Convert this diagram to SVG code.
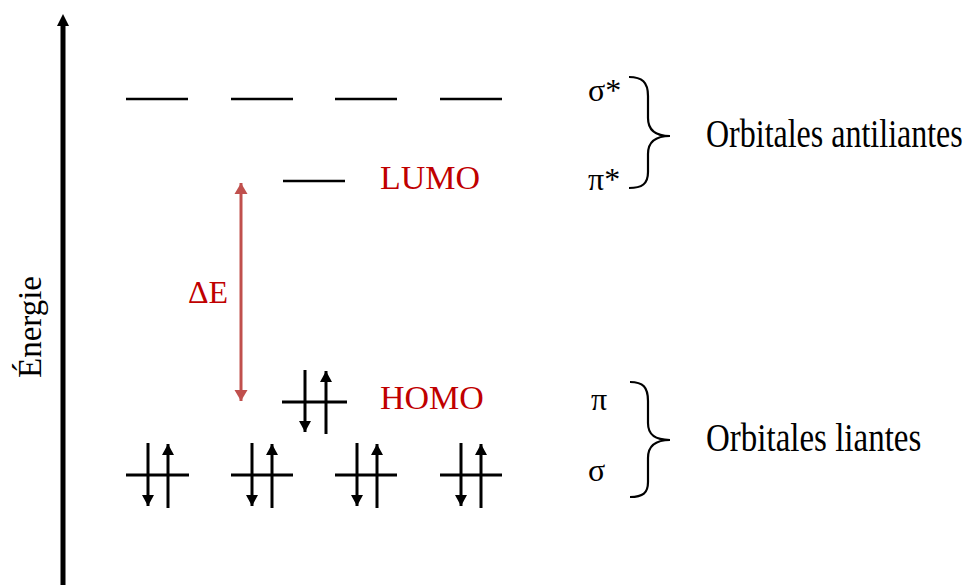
<svg xmlns="http://www.w3.org/2000/svg" width="977" height="585" viewBox="0 0 977 585">
<style>
.t{font-family:"Liberation Serif","Times New Roman",serif;fill:#000}
.r{fill:#C00000}
.lvl{stroke:#000;stroke-width:3;fill:none}
.dash{stroke:#000;stroke-width:2.5;fill:none}
.e{stroke:#000;stroke-width:3;fill:none}
.br{stroke:#000;stroke-width:2.2;fill:none}
</style>
<defs>
<marker id="ah" markerUnits="userSpaceOnUse" markerWidth="13" markerHeight="13" refX="11" refY="6.5" orient="auto">
<path d="M0,0.5 L11,6.5 L0,12.5 Z" fill="#000"/>
</marker>
<marker id="ahr" markerUnits="userSpaceOnUse" markerWidth="14" markerHeight="14" refX="11" refY="7" orient="auto">
<path d="M0,0.5 L11,7 L0,13.5 Z" fill="#C0504D"/>
</marker>
</defs>
<g id="axis">
<line x1="63" y1="585" x2="63" y2="24" stroke="#000" stroke-width="5"/>
<path d="M57,26 L63,14 L69,26 Z" fill="#000"/>
<text class="t" font-size="33" transform="translate(41,378) rotate(-90)">Énergie</text>
</g>
<g id="sigma-star">
<line class="dash" x1="126" y1="99" x2="188" y2="99"/>
<line class="dash" x1="231" y1="99" x2="293" y2="99"/>
<line class="dash" x1="335" y1="99" x2="397" y2="99"/>
<line class="dash" x1="440" y1="99" x2="502" y2="99"/>
<text class="t" font-size="32" x="588" y="101">σ*</text>
</g>
<g id="lumo">
<line class="dash" x1="283" y1="181" x2="345" y2="181"/>
<text class="t r" font-size="34" x="380" y="189">LUMO</text>
<text class="t" font-size="32" x="588" y="190">π*</text>
</g>
<g id="homo">
<line class="lvl" x1="282" y1="402" x2="347" y2="402"/>
<text class="t r" font-size="34" x="380" y="409">HOMO</text>
<text class="t" font-size="32" x="591" y="410">π</text>
</g>
<g id="sigma">
<line class="lvl" x1="126" y1="475" x2="189" y2="475"/>
<line class="lvl" x1="231" y1="475" x2="293" y2="475"/>
<line class="lvl" x1="335" y1="475" x2="397" y2="475"/>
<line class="lvl" x1="440" y1="475" x2="502" y2="475"/>
<text class="t" font-size="32" x="588" y="481">σ</text>
</g>
<g id="electrons">
<line class="e" x1="305" y1="370" x2="305" y2="432" marker-end="url(#ah)"/>
<line class="e" x1="326" y1="434" x2="326" y2="371" marker-end="url(#ah)"/>
<line class="e" x1="148" y1="443" x2="148" y2="506" marker-end="url(#ah)"/>
<line class="e" x1="168" y1="508" x2="168" y2="444" marker-end="url(#ah)"/>
<line class="e" x1="252" y1="443" x2="252" y2="506" marker-end="url(#ah)"/>
<line class="e" x1="272" y1="508" x2="272" y2="444" marker-end="url(#ah)"/>
<line class="e" x1="357" y1="443" x2="357" y2="506" marker-end="url(#ah)"/>
<line class="e" x1="377" y1="508" x2="377" y2="444" marker-end="url(#ah)"/>
<line class="e" x1="461" y1="443" x2="461" y2="506" marker-end="url(#ah)"/>
<line class="e" x1="481" y1="508" x2="481" y2="444" marker-end="url(#ah)"/>
</g>
<g id="connectors">
<line x1="241" y1="292" x2="241" y2="183" stroke="#C0504D" stroke-width="3" marker-end="url(#ahr)"/>
<line x1="241" y1="292" x2="241" y2="401" stroke="#C0504D" stroke-width="3" marker-end="url(#ahr)"/>
<text class="t r" font-size="32" x="188" y="303">ΔE</text>
</g>
<g id="brace-anti">
<path class="br" d="M629,77 C642,77 648,82 648,96 L648,118 C648,130 655,136 670,136 C655,136 648,142 648,154 L648,172 C648,184 642,188 629,188"/>
<text class="t" font-size="32" transform="translate(706,147) scale(1,1.22)">Orbitales antiliantes</text>
</g>
<g id="brace-liantes">
<path class="br" d="M630,382 C643,382 648,387 648,401 L648,423 C648,435 655,440 670,440 C655,440 648,446 648,458 L648,482 C648,493 643,497 630,497"/>
<text class="t" font-size="33" transform="translate(706,451) scale(1,1.2)">Orbitales liantes</text>
</g>
</svg>
